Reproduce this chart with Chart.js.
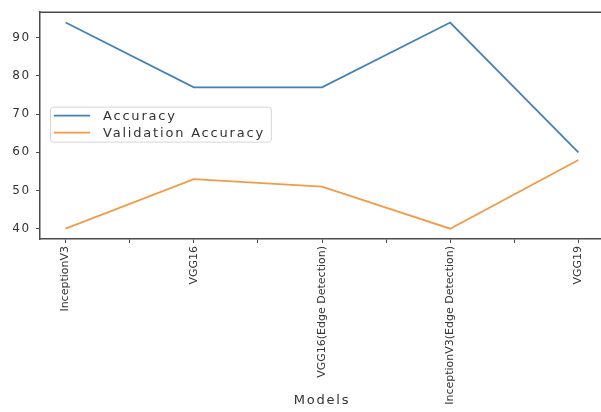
<!DOCTYPE html>
<html>
<head>
<meta charset="utf-8">
<script src="https://cdn.jsdelivr.net/npm/chart.js@4/dist/chart.umd.min.js"></script>
<style>
  html, body { margin: 0; padding: 0; background: #fff; overflow: hidden; }
  canvas { display: block; }
</style>
</head>
<body>
<canvas id="chart" width="604" height="412"></canvas>
<script>
// Model names along the x axis
const models = ['InceptionV3', 'VGG16', 'VGG16(Edge Detection)', 'InceptionV3(Edge Detection)', 'VGG19'];
// Scores per model (percent)
const accuracy = [94, 77, 77, 94, 60];
const validationAccuracy = [40, 53, 51, 40, 58];
// Labelled y ticks
const yTickValues = [40, 50, 60, 70, 80, 90];
// Series names and colours
const seriesLabels = ['Accuracy', 'Validation Accuracy'];
const seriesColors = ['#4581b6', '#f39a48'];

const TEXT = '#333333';
const AXIS = '#4a4a4a';
const SPACING = '1.8px';
const FONT = 'DejaVu Sans';

// 5% margins around the data on both axes
const allValues = accuracy.concat(validationAccuracy);
const vMin = Math.min(...allValues);
const vMax = Math.max(...allValues);
const yPad = (vMax - vMin) * 0.05;
const xPad = (models.length - 1) * 0.05;

const toPoints = arr => arr.map((v, i) => ({ x: i, y: v }));

// Wide lettering for horizontal text; the rotated x labels draw after the datasets without it
const textSpacing = {
  id: 'textSpacing',
  beforeDraw(chart) { chart.ctx.letterSpacing = SPACING; },
  afterDatasetsDraw(chart) { chart.ctx.letterSpacing = '0px'; },
  afterDraw(chart) { chart.ctx.letterSpacing = '0px'; }
};

// Top edge of the axes frame
const axesFrame = {
  id: 'axesFrame',
  beforeDatasetsDraw(chart) {
    const { ctx, chartArea: a } = chart;
    ctx.save();
    ctx.strokeStyle = AXIS;
    ctx.lineWidth = 1.5;
    ctx.beginPath();
    ctx.moveTo(a.left, a.top);
    ctx.lineTo(a.right, a.top);
    ctx.stroke();
    ctx.restore();
  }
};

// Framed legend at the centre left of the plot
const boxLegend = {
  id: 'boxLegend',
  afterDraw(chart) {
    const { ctx, chartArea: a } = chart;
    ctx.save();
    ctx.letterSpacing = SPACING;
    ctx.font = '13px "' + FONT + '"';
    const items = chart.data.datasets.map(d => ({ text: d.label, color: d.borderColor }));
    const textW = Math.max(...items.map(it => ctx.measureText(it.text).width));
    const lineLen = 36, gap = 13, rowH = 17;
    const w = 4 + lineLen + gap + textW + 6;
    const h = 35;
    const x0 = a.left + 10;
    const y0 = (a.top + a.bottom) / 2 - 19;
    ctx.beginPath();
    ctx.roundRect(x0 + 0.5, y0 + 0.5, w, h, 3);
    ctx.fillStyle = 'rgba(255,255,255,0.8)';
    ctx.fill();
    ctx.strokeStyle = '#d6d6d6';
    ctx.lineWidth = 1;
    ctx.stroke();
    items.forEach((it, i) => {
      const y = y0 + 9 + i * rowH;
      ctx.strokeStyle = it.color;
      ctx.lineWidth = 1.8;
      ctx.beginPath();
      ctx.moveTo(x0 + 4, y);
      ctx.lineTo(x0 + 4 + lineLen, y);
      ctx.stroke();
      ctx.fillStyle = TEXT;
      ctx.textBaseline = 'middle';
      ctx.textAlign = 'left';
      ctx.fillText(it.text, x0 + 4 + lineLen + gap, y + 1);
    });
    ctx.restore();
  }
};

new Chart(document.getElementById('chart'), {
  type: 'line',
  data: {
    datasets: [
      { label: seriesLabels[0], data: toPoints(accuracy), borderColor: seriesColors[0], backgroundColor: seriesColors[0],
        borderWidth: 1.8, pointRadius: 0, tension: 0, fill: false },
      { label: seriesLabels[1], data: toPoints(validationAccuracy), borderColor: seriesColors[1], backgroundColor: seriesColors[1],
        borderWidth: 1.8, pointRadius: 0, tension: 0, fill: false }
    ]
  },
  options: {
    responsive: false,
    animation: false,
    layout: { padding: { top: 10, left: 0, right: 0, bottom: 0 } },
    plugins: { legend: { display: false }, tooltip: { enabled: false } },
    scales: {
      x: {
        type: 'linear',
        min: -xPad,
        max: models.length - 1 + xPad,
        afterBuildTicks(scale) {
          const t = [];
          for (let i = 0; i <= (models.length - 1) * 2; i++) t.push({ value: i / 2 });
          scale.ticks = t;
        },
        afterFit(scale) { scale.height = 173; },
        grid: { display: true, drawOnChartArea: false, drawTicks: true, tickLength: 4, color: AXIS, lineWidth: 1 },
        border: { display: true, color: AXIS, width: 1.5 },
        ticks: {
          autoSkip: false, maxRotation: 90, minRotation: 90, padding: 3, z: 1,
          color: TEXT, font: { family: FONT, size: 11 },
          callback: v => Number.isInteger(v) ? models[v] : ''
        },
        title: { display: true, text: 'Models', color: TEXT, font: { family: FONT, size: 13 }, padding: { top: 0, bottom: 4 } }
      },
      y: {
        min: vMin - yPad,
        max: vMax + yPad,
        afterBuildTicks(scale) { scale.ticks = yTickValues.map(v => ({ value: v })); },
        afterFit(scale) { scale.width = 40; },
        grid: { display: true, drawOnChartArea: false, drawTicks: true, tickLength: 4, color: AXIS, lineWidth: 1 },
        border: { display: true, color: AXIS, width: 1.5 },
        ticks: { padding: 5, color: TEXT, font: { family: FONT, size: 12 } }
      }
    }
  },
  plugins: [textSpacing, axesFrame, boxLegend]
});
</script>
</body>
</html>
